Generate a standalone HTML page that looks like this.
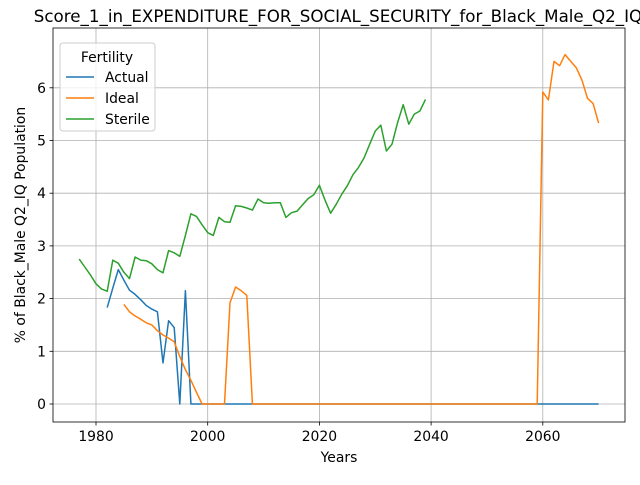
<!DOCTYPE html>
<html><head><meta charset="utf-8"><style>
body{margin:0;background:#fff;font-family:"Liberation Sans","DejaVu Sans",sans-serif}
svg text{font-family:"DejaVu Sans","Liberation Sans",sans-serif}
</style></head><body>
<svg id="chart" width="640" height="480"></svg>
<script>
const actualYears=[];for(let y=1982;y<=2070;y++)actualYears.push(y);
const actualValues=[1.83,2.2,2.55,2.35,2.16,2.08,1.98,1.87,1.8,1.75,0.78,1.58,1.45,0,2.15,0].concat(new Array(2070-1997).fill(0));
const idealYears=[];for(let y=1985;y<=2070;y++)idealYears.push(y);
const idealValues=[1.89,1.75,1.67,1.61,1.54,1.5,1.39,1.31,1.25,1.18,0.9,0.65,0.45,0.22,0,0,0,0,0,1.92,2.22,2.15,2.06].concat(new Array(2059-2007).fill(0)).concat([5.92,5.77,6.5,6.42,6.63,6.5,6.38,6.15,5.8,5.7,5.33]);
const sterileYears=[];for(let y=1977;y<=2039;y++)sterileYears.push(y);
const sterileValues=[2.75,2.6,2.45,2.28,2.18,2.14,2.73,2.67,2.5,2.38,2.79,2.73,2.72,2.66,2.55,2.49,2.91,2.87,2.8,3.2,3.61,3.56,3.4,3.25,3.2,3.54,3.46,3.45,3.76,3.75,3.72,3.68,3.89,3.82,3.81,3.82,3.82,3.54,3.63,3.66,3.78,3.9,3.97,4.15,3.87,3.62,3.79,3.98,4.14,4.35,4.49,4.67,4.93,5.18,5.29,4.8,4.93,5.34,5.68,5.31,5.5,5.56,5.78];
const xTicks=[1980,2000,2020,2040,2060];
const yTicks=[0,1,2,3,4,5,6];
const seriesNames=["Actual","Ideal","Sterile"];
const colors=["#1f77b4","#ff7f0e","#2ca02c"];

const L=53,R=625,T=28,B=422;
const x=v=>96+(v-1980)*(111.7/20);
const y=v=>404-v*52.7;
const svg=document.getElementById('chart');
const NS="http://www.w3.org/2000/svg";
function el(tag,attrs,parent){const e=document.createElementNS(NS,tag);for(const k in attrs)e.setAttribute(k,attrs[k]);(parent||svg).appendChild(e);return e;}

xTicks.forEach(t=>{
  const g=el('line',{x1:x(t),x2:x(t),y1:T,y2:B,stroke:'#b0b0b0','stroke-width':0.8});
  
  
  el('line',{x1:x(t),x2:x(t),y1:B,y2:B+3.5,stroke:'#000','stroke-width':0.8});
  const tx=el('text',{x:x(t),y:B+19,'text-anchor':'middle','font-size':13.9});
  tx.textContent=t;
  
  
});
yTicks.forEach(t=>{
  const g=el('line',{x1:L,x2:R,y1:y(t),y2:y(t),stroke:'#b0b0b0','stroke-width':0.8});
  
  
  el('line',{x1:L-3.5,x2:L,y1:y(t),y2:y(t),stroke:'#000','stroke-width':0.8});
  const tx=el('text',{x:L-7,y:y(t)+5,'text-anchor':'end','font-size':13.9});
  tx.textContent=t;
  
  
});
const data=[[actualYears,actualValues],[idealYears,idealValues],[sterileYears,sterileValues]];
data.forEach((d,i)=>{
  const pts=d[0].map((yr,j)=>x(yr).toFixed(1)+','+y(d[1][j]).toFixed(1)).join(' ');
  const p=el('polyline',{points:pts,fill:'none',stroke:colors[i],'stroke-width':1.5,'stroke-linejoin':'round'});
  
  
});
const frame=el('rect',{x:L,y:T,width:R-L,height:B-T,fill:'none',stroke:'#000','stroke-width':0.8});



const title=el('text',{x:338,y:22,'text-anchor':'middle','font-size':16.7});
title.textContent='Score_1_in_EXPENDITURE_FOR_SOCIAL_SECURITY_for_Black_Male_Q2_IQ';


const xl=el('text',{x:339,y:462,'text-anchor':'middle','font-size':13.9});
xl.textContent='Years';


const yl=el('text',{x:25,y:225,'text-anchor':'middle','font-size':13.9,transform:'rotate(-90 25 225)'});
yl.textContent='% of Black_Male Q2_IQ Population';



const lg=el('g',{});


el('rect',{x:60,y:43,width:95,height:88,rx:3,fill:'#fff','fill-opacity':0.8,stroke:'#ccc'},lg);
const lt=el('text',{x:107,y:62,'text-anchor':'middle','font-size':13.9},lg);
lt.textContent='Fertility';
seriesNames.forEach((n,i)=>{
  const yy=77+i*21;
  const ln=el('line',{x1:66,x2:94,y1:yy,y2:yy,stroke:colors[i],'stroke-width':1.5},lg);
  
  
  const t=el('text',{x:105,y:yy+5,'font-size':13.9},lg);
  t.textContent=n;
  
  
});
</script>
</body></html>
